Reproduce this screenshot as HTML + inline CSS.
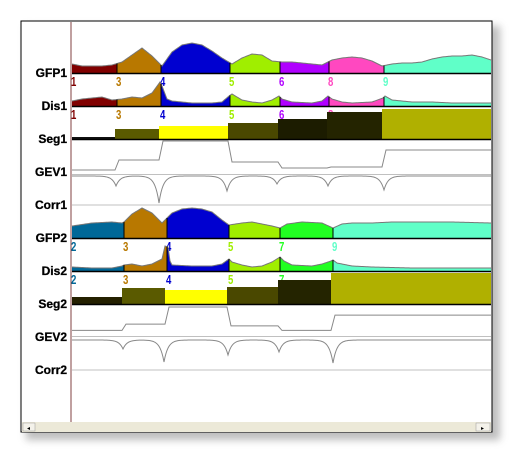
<!DOCTYPE html>
<html><head><meta charset="utf-8"><style>
body{margin:0;width:514px;height:454px;background:#fff;overflow:hidden;font-family:"Liberation Sans",sans-serif}
</style></head><body>
<svg id="c" width="514" height="454" xmlns="http://www.w3.org/2000/svg">
<defs><filter id="sh" x="-5%" y="-5%" width="115%" height="115%"><feGaussianBlur stdDeviation="4"/></filter></defs>
<rect x="26" y="26" width="474" height="414" fill="#888" opacity="0.55" filter="url(#sh)"/>
<rect x="21" y="21" width="471" height="411" fill="#fff" stroke="#000" stroke-width="1"/>
<g id="plot"></g>
<g>
<rect x="22" y="422" width="469" height="10" fill="#ece9d8"/>
<rect x="23" y="423" width="12" height="8" fill="#f4f2ea" stroke="#999" stroke-width="0.5"/>
<rect x="476" y="423" width="14" height="8" fill="#f4f2ea" stroke="#999" stroke-width="0.5"/>
<text x="27" y="430" font-size="6">◂</text><text x="481" y="430" font-size="6">▸</text>
</g>
<line x1="71" y1="22" x2="71" y2="422" stroke="#804040" stroke-width="1"/>
</svg>
<script>
// ---- data (time units, 0..419 => x 72..491) ----
const gfp1T=[0,10,20,30,40,50,60,70,80,90,100,110,120,130,140,150,160,170,180,190,200,210,220,230,240,250,260,270,280,290,300,310,320,330,340,350,360,370,380,390,400,410,419];
const gfp1V=[9,7,7,7,8,11,18,25,17,7,21,28,30,28,22,15,9,15,19,18,12,11,11,10,9,8,13,15,16,15,12,7,9,10,10,11,14,16,17,17,18,16,13];
const dis1T=[0,10,20,30,40,50,60,70,80,88,90,95,100,120,140,150,157,160,170,180,190,200,207,210,220,240,250,256,260,270,280,300,311,313,320,340,360,380,400,419];
const dis1V=[5,7,8,9,6,7,9,8,13,24,20,7,5,3,3,4,10,12,6,4,3,6,10,7,4,3,5,10,7,4,3,4,8,10,6,4,4,3,3,3];
const seg1Bounds=[0,45,89,158,208,257,312];
const seg1Labels=["1","3","4","5","6","8","9"];
const seg1Colors=["#800000","#b87800","#0000d0","#a0ee00","#b000ff","#ff48c0","#60ffc8"];
const seg1Blocks=[2,10,13,16,20,27,30];
const seg1BlockColors=["#101010","#5a5a00","#ffff00","#4a4800","#1c1c00","#242400","#b0b000"];
const gev1V=[2,12,31,10,4,5,22];
const corr1DipT=[44,87,155,205,256,312];
const corr1DipV=[10,27,15,8,10,14];
const gfp2T=[0,20,40,50,52,60,70,80,90,95,100,110,120,130,140,150,157,170,180,190,200,208,215,230,250,261,270,280,300,320,340,380,419];
const gfp2V=[12,15,16,15,16,24,30,25,15,20,25,29,30,29,26,18,13,15,16,14,12,10,14,16,15,10,14,15,15,16,16,16,15];
const dis2T=[0,20,40,50,52,60,70,80,90,93,96,98,100,120,140,150,157,160,170,180,190,200,208,212,220,240,250,259,261,265,280,300,340,380,419];
const dis2V=[4,3,3,5,6,7,5,7,12,25,24,10,6,5,5,7,12,9,6,4,5,9,14,10,6,5,7,10,11,8,5,4,3,3,3];
const seg2Bounds=[0,52,95,157,208,261];
const seg2Labels=["2","3","4","5","7","9"];
const seg2Colors=["#006898","#b87800","#0000d0","#a0ee00","#22ff22","#60ffc8"];
const seg2Blocks=[7,16,14,17,24,31];
const seg2BlockColors=["#242000","#5a5a00","#ffff00","#4a4800","#242400","#b0b000"];
const gev2V=[4,11,30,9,4,21];
const corr2DipT=[51,92,156,207,261];
const corr2DipV=[9,22,15,12,23];

const NS="http://www.w3.org/2000/svg";
const P=document.getElementById('plot');
const X0=72,XS=1;
const xs=t=>X0+t*XS;
function mk(tag,a,p){const e=document.createElementNS(NS,tag);for(const k in a)e.setAttribute(k,a[k]);(p||P).appendChild(e);return e;}
function interp(T,V,t){for(let i=1;i<T.length;i++){if(t<=T[i]){const f=(t-T[i-1])/(T[i]-T[i-1]);return V[i-1]+f*(V[i]-V[i-1]);}}return V[V.length-1];}
function label(txt,y,name){const e=mk('text',{x:67,y:y+4,'text-anchor':'end','font-size':'12','font-weight':'bold',fill:'#000','stroke':'#000','stroke-width':'0.3'});e.textContent=txt;

}
function area(T,V,bounds,colors,base,name){
 for(let s=0;s<bounds.length;s++){const a=bounds[s],b=s+1<bounds.length?bounds[s+1]:419;
  let d=`M${xs(a)},${base}`;for(let t=a;t<=b;t++)d+=`L${xs(t)},${base-interp(T,V,t)}`;d+=`L${xs(b)},${base}Z`;
  const p=mk('path',{d,fill:colors[s],stroke:'none'});
  
  }
 let d='';for(let t=0;t<=419;t++)d+=(t?'L':'M')+xs(t)+','+(base-interp(T,V,t));
 mk('path',{d,fill:'none',stroke:'#777','stroke-width':1});
 for(let s=1;s<bounds.length;s++){const x=xs(bounds[s]);mk('line',{x1:x,x2:x,y1:base-interp(T,V,bounds[s]),y2:base,stroke:'#000'});}
 mk('line',{x1:72,x2:491,y1:base+0.5,y2:base+0.5,stroke:'#000','stroke-width':1.5});
}
function nums(bounds,labels,colors,y,name){for(let s=0;s<bounds.length;s++){const x=xs(bounds[s])-1;const e=mk('text',{x:0,y:0,transform:`translate(${x},${y}) scale(0.8,1.1)`,'font-size':'12','font-weight':'bold',fill:colors[s]});e.textContent=labels[s];
 
 }}
function seg(bounds,blocks,colors,base,name){for(let s=0;s<bounds.length;s++){const a=bounds[s]+(s?-2:0),b=s+1<bounds.length?bounds[s+1]-2:419;const h=blocks[s];
 const r=mk('rect',{x:xs(a),y:base-h,width:xs(b)-xs(a),height:h,fill:colors[s]});
 
 }
 mk('line',{x1:72,x2:491,y1:base+0.5,y2:base+0.5,stroke:'#000','stroke-width':1.5});}
function gev(bounds,V,base,scale,name){let d='';for(let s=0;s<bounds.length;s++){const a=bounds[s]+(s?2:0),b=s+1<bounds.length?bounds[s+1]-2:419;const y=base-V[s]*scale;d+=(s?'L':'M')+xs(a)+','+y+'L'+xs(b)+','+y;}
 const p=mk('path',{d,fill:'none',stroke:'#888','stroke-width':1});
 
 
 mk('line',{x1:72,x2:491,y1:base+2.5,y2:base+2.5,stroke:'#c0c0c0'});}
function corr(DT,DV,base,gray,name){let d='';for(let t=0;t<=419;t++){let v=0;for(let i=0;i<DT.length;i++){const dd=Math.abs(t-DT[i]);v=Math.max(v,DV[i]*Math.exp(-dd/4));}d+=(t?'L':'M')+xs(t)+','+(base+v);}
 const p=mk('path',{d,fill:'none',stroke:'#888','stroke-width':1});
 
 
 mk('line',{x1:72,x2:491,y1:gray,y2:gray,stroke:'#c0c0c0'});}

area(gfp1T,gfp1V,seg1Bounds,seg1Colors,73,'gfp1');
nums(seg1Bounds,seg1Labels,seg1Colors,86,'gfp1');
area(dis1T,dis1V,seg1Bounds,seg1Colors,106,'dis1');
nums(seg1Bounds.slice(0,6),seg1Labels,seg1Colors,119,'dis1');
seg(seg1Bounds,seg1Blocks,seg1BlockColors,139,'seg1');
gev(seg1Bounds,gev1V,172,1,'gev1-line');
corr(corr1DipT,corr1DipV,176,205,'corr1-line');
area(gfp2T,gfp2V,seg2Bounds,seg2Colors,238,'gfp2');
nums(seg2Bounds,seg2Labels,seg2Colors,251,'gfp2');
area(dis2T,dis2V,seg2Bounds,seg2Colors,271,'dis2');
nums(seg2Bounds.slice(0,5),seg2Labels,seg2Colors,284,'dis2');
seg(seg2Bounds,seg2Blocks,seg2BlockColors,304,'seg2');
gev(seg2Bounds,gev2V,334,0.9,'gev2-line');
corr(corr2DipT,corr2DipV,340,370,'corr2-line');
label('GFP1',73,'gfp1-label');label('Dis1',106,'dis1-label');label('Seg1',139,'seg1-label');
label('GEV1',172,'gev1-label');label('Corr1',205,'corr1-label');
label('GFP2',238,'gfp2-label');label('Dis2',271,'dis2-label');label('Seg2',304,'seg2-label');
label('GEV2',337,'gev2-label');label('Corr2',370,'corr2-label');
</script>
</body></html>
